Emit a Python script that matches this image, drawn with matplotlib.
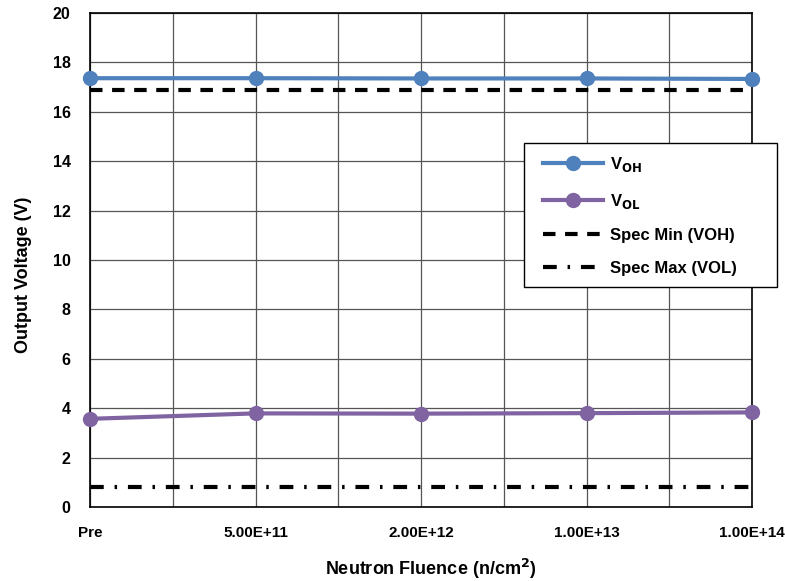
import matplotlib.pyplot as plt
from matplotlib.lines import Line2D
from matplotlib.patches import Rectangle

categories = ["Pre", "5.00E+11", "2.00E+12", "1.00E+13", "1.00E+14"]
voh = [17.36, 17.36, 17.35, 17.35, 17.33]
vol = [3.57, 3.79, 3.78, 3.80, 3.83]
spec_min_voh = 16.9
spec_max_vol = 0.8

plt.rcParams['font.family'] = ['Liberation Sans', 'DejaVu Sans']
plt.rcParams['font.weight'] = 'bold'
plt.rcParams['mathtext.default'] = 'bf'

W, H = 785, 581
fig = plt.figure(figsize=(7.85, 5.81), dpi=100)
ax = fig.add_axes([90/W, 1 - 507/H, (752-90)/W, (507-13)/H])

dash = (0, (3, 2.3))
dashdot = (0, (3.3, 2.6, 0.6, 2.6))

x = [2*i for i in range(len(categories))]
ax.plot(x, voh, color="#4f81bd", lw=3, marker="o", ms=10, zorder=3, clip_on=False)
ax.plot(x, vol, color="#8064a2", lw=3, marker="o", ms=10, zorder=3, clip_on=False)
ax.plot([0, 8], [spec_min_voh]*2, color="black", lw=3, ls=dash, zorder=2)
ax.plot([0, 8], [spec_max_vol]*2, color="black", lw=3, ls=dashdot, zorder=2)

ax.set_xlim(0, 8)
ax.set_ylim(0, 20)
ax.set_yticks(range(0, 21, 2))
ax.set_xticks(range(0, 9))
ax.set_xticklabels(["" if i % 2 else categories[i//2] for i in range(9)])
ax.grid(True, color="#555555", lw=0.9)
ax.tick_params(length=0)
ax.tick_params(axis='y', pad=14, labelsize=11.5)
ax.tick_params(axis='x', pad=14, labelsize=11)
for s in ax.spines.values():
    s.set_linewidth(1.2)

fig.text(24/W, 1 - 275/H, "Output Voltage (V)", rotation=90, fontsize=13,
         fontweight="bold", ha="center", va="center")
fig.text(431/W, 1 - 569/H, "Neutron Fluence (n/cm$^\\mathbf{2}$)", fontsize=13,
         fontweight="bold", ha="center", va="center")

# legend box sits partly outside the plot area
box = Rectangle((524/W, 1 - 287/H), 253/W, 144/H, transform=fig.transFigure,
                fc="white", ec="black", lw=1.0, zorder=4)
fig.add_artist(box)

handles = [
    Line2D([], [], color="#4f81bd", lw=3, marker="o", ms=10),
    Line2D([], [], color="#8064a2", lw=3, marker="o", ms=10),
    Line2D([], [], color="black", lw=3, ls=dash),
    Line2D([], [], color="black", lw=3, ls=dashdot),
]
labels = ["V$_\\mathbf{OH}$", "V$_\\mathbf{OL}$", "Spec Min (VOH)", "Spec Max (VOL)"]
leg = fig.legend(handles, labels, loc="upper left", bbox_to_anchor=(543/W, 1 - 155/H),
                 frameon=False, fontsize=12, borderpad=0, borderaxespad=0,
                 labelspacing=1.05, handlelength=3.6, handletextpad=0.4)
leg.set_zorder(5)

fig.savefig("out.png", dpi=100)
